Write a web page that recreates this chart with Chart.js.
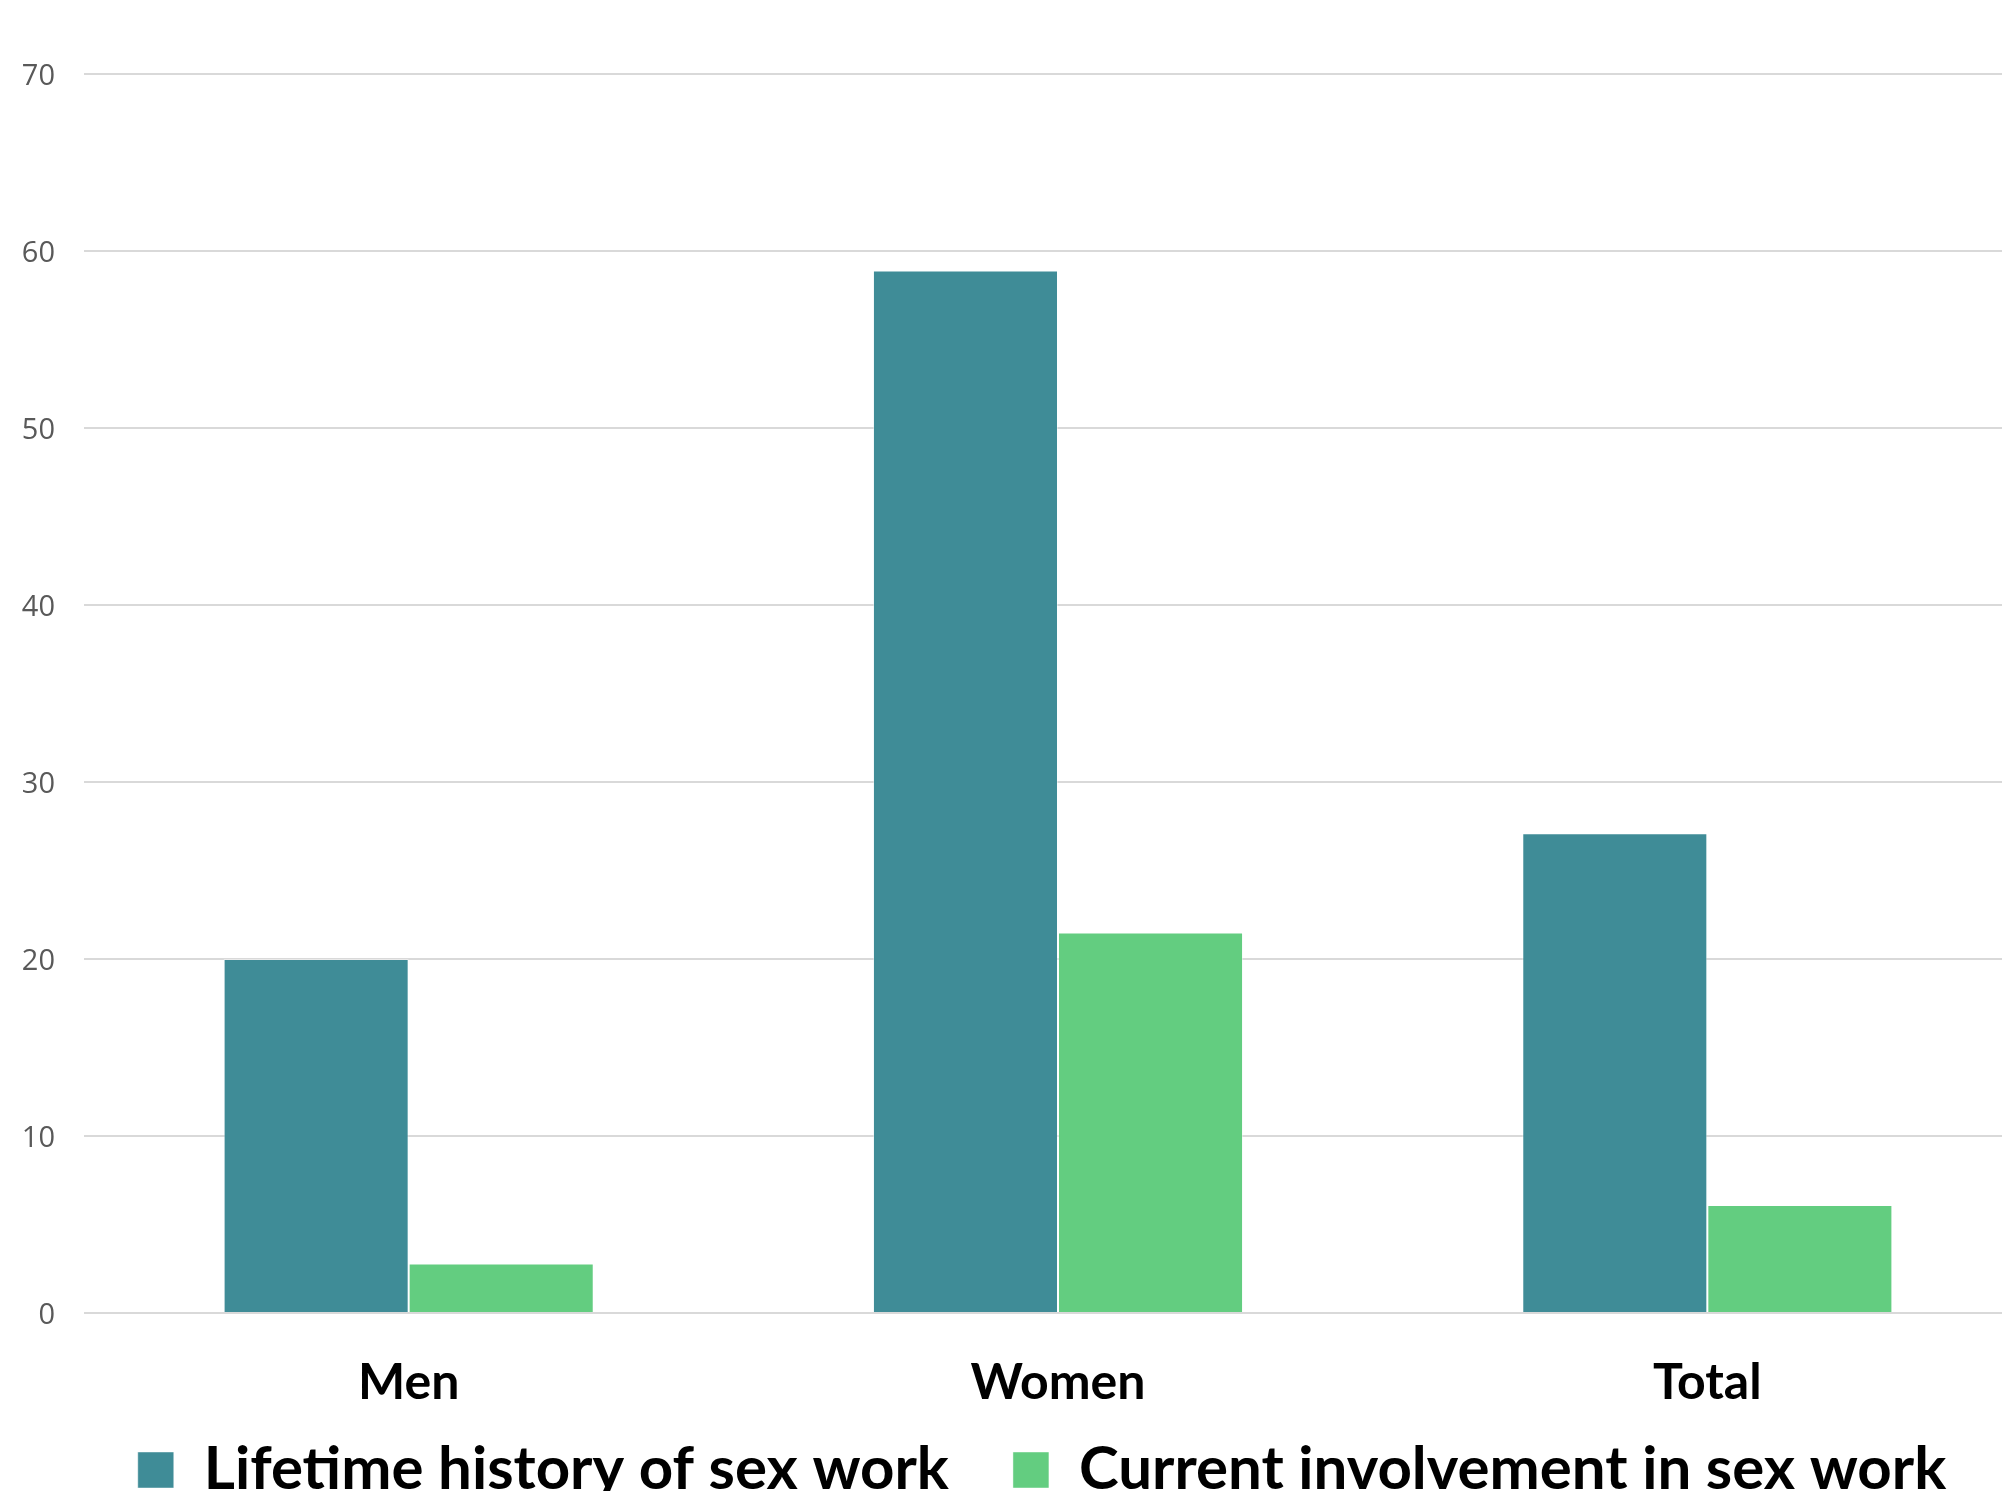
<!DOCTYPE html>
<html>
<head>
<meta charset="utf-8">
<script src="https://cdn.jsdelivr.net/npm/chart.js@4"></script>
<style>
  html, body { margin: 0; padding: 0; background: #fff; overflow: hidden; }
  #wrap { width: 2002px; height: 1491px; overflow: hidden; }
</style>
</head>
<body>
<div id="wrap"><canvas id="chart" width="2032" height="1557"></canvas></div>
<script>
const categories = ["Men", "Women", "Total"];
const lifetimeHistory = [20, 58.9, 27.1];
const currentInvolvement = [2.8, 21.5, 6.1];
const seriesLabels = ["Lifetime history of sex work", "Current involvement in sex work"];
const yTicks = [0, 10, 20, 30, 40, 50, 60, 70];

const tealColor = "#3F8C97";
const greenColor = "#63CD80";

// the legend in the original sits a bit higher and right of where Chart.js centres it
const legendNudge = {
  id: "legendNudge",
  afterLayout(chart) {
    const legend = chart.legend;
    legend.top -= 47;
    legend.bottom -= 47;
    legend.left += 26;
    legend.right += 26;
  },
};

new Chart(document.getElementById("chart"), {
  type: "bar",
  data: {
    labels: categories,
    datasets: [
      {
        label: seriesLabels[0],
        data: lifetimeHistory,
        backgroundColor: tealColor,
        borderColor: "rgba(255, 255, 255, 0.45)",
        borderWidth: 1,
      },
      {
        label: seriesLabels[1],
        data: currentInvolvement,
        backgroundColor: greenColor,
        borderColor: "rgba(255, 255, 255, 0.45)",
        borderWidth: 1,
      },
    ],
  },
  plugins: [legendNudge],
  options: {
    responsive: false,
    animation: false,
    devicePixelRatio: 1,
    layout: { padding: { top: 74, left: 0, right: 0, bottom: 0 } },
    categoryPercentage: 0.57,
    barPercentage: 1.0,
    plugins: {
      tooltip: { enabled: false },
      legend: {
        position: "bottom",
        labels: {
          font: { family: "Lato", size: 60, weight: "bold" },
          color: "#000",
          boxWidth: 36,
          boxHeight: 36,
          padding: 64,
        },
      },
    },
    scales: {
      x: {
        grid: { display: false },
        border: { display: false },
        ticks: {
          font: { family: "Lato", size: 50, weight: "bold" },
          color: "#000",
          padding: 32,
        },
        afterFit: (scale) => {
          scale.height = 110;
        },
      },
      y: {
        min: 0,
        max: 70,
        afterBuildTicks: (scale) => {
          scale.ticks = yTicks.map((value) => ({ value }));
        },
        grid: { color: "#D9D9D9", lineWidth: 2, drawTicks: false },
        border: { display: false },
        ticks: {
          font: { family: "Open Sans", size: 29 },
          color: "#595959",
          padding: 29,
          labelOffset: 3,
        },
        afterFit: (scale) => {
          scale.width = 84;
        },
      },
    },
  },
});
</script>
</body>
</html>
